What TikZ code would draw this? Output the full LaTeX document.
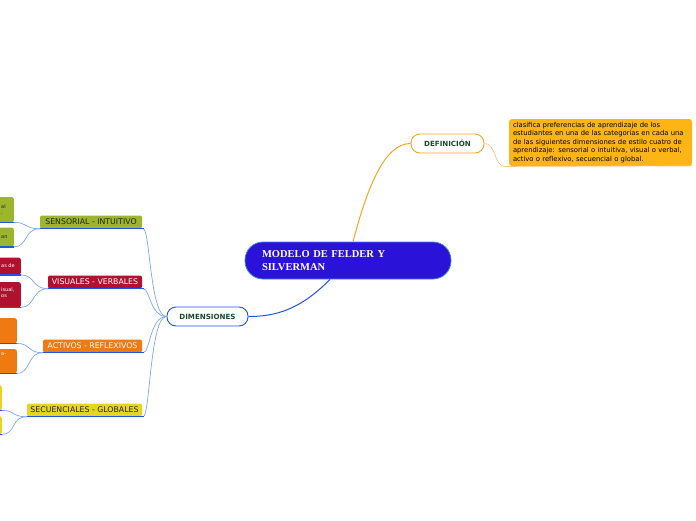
\documentclass[tikz,border=0pt]{standalone}
\usepackage{fontspec}
\setmainfont{DejaVu Sans}
\newfontfamily\titlefont{Liberation Serif}
\definecolor{cmain}{HTML}{2B12D8}
\definecolor{cmainb}{HTML}{3F86D6}
\definecolor{cblue}{HTML}{2452E6}
\definecolor{cthin}{HTML}{7FA5F6}
\definecolor{corange}{HTML}{F5A623}
\definecolor{corthin}{HTML}{F6C27A}
\definecolor{cdef}{HTML}{FDB515}
\definecolor{colive}{HTML}{9CB52D}
\definecolor{ccrim}{HTML}{B2102F}
\definecolor{cor}{HTML}{EF7A12}
\definecolor{cyel}{HTML}{E6D61E}
\definecolor{cdkgreen}{HTML}{1A4A2E}
\definecolor{cdark}{HTML}{222222}
\begin{document}
\begin{tikzpicture}[x=1pt,y=-1pt,
  mainbox/.style={rectangle, rounded corners=18pt, fill=cmain, draw=cmainb, line width=0.8pt,
    minimum width=206pt, minimum height=37pt, inner sep=0pt},
  pill/.style={rectangle, rounded corners=9pt, fill=white, line width=0.9pt,
    minimum height=19pt, inner sep=0pt, text=cdkgreen, font=\fontsize{7.1}{8}\selectfont\bfseries},
  childbox/.style={rectangle, rounded corners=2pt, minimum height=13pt, inner sep=0pt,
    font=\fontsize{7.8}{9}\selectfont},
  leafbox/.style={rectangle, rounded corners=2pt, inner sep=0pt, anchor=north east,
    font=\fontsize{5}{6.5}\selectfont},
  leaftext/.style={inner sep=0pt, anchor=west, align=left, font=\fontsize{5}{6.5}\selectfont},
  uline/.style={cblue, line width=1.5pt},
  thin/.style={cthin, line width=0.7pt},
]
\useasboundingbox (0,0) rectangle (696,520);
\clip (0,0) rectangle (696,520);

% central
\node[mainbox] (main) at (348,260.5) {};
\node[text width=172pt, align=left, inner sep=0pt, text=white,
  font=\titlefont\fontsize{10.5}{13}\selectfont\bfseries] (maintext) at (348,261)
  {MODELO DE FELDER Y\\SILVERMAN};

% definition
\node[pill, draw=corange, minimum width=73pt] (def) at (447.5,143.5) {DEFINICIÓN};
\node[rectangle, rounded corners=3pt, fill=cdef, minimum width=183pt, minimum height=47pt,
  inner sep=0pt] (defbox) at (600.5,142.5) {};
\node[text width=178pt, align=left, inner sep=0pt, text=black,
  font=\fontsize{6.8}{8.5}\selectfont] (deftext) at (602,142.5)
  {clasifica preferencias de aprendizaje de los\\
   estudiantes en una de las categorías en cada una\\
   de las siguientes dimensiones de estilo cuatro de\\
   aprendizaje: sensorial o intuitiva, visual o verbal,\\
   activo o reflexivo, secuencial o global.};
\coordinate (defbl) at (505,166.5);
\draw[corthin, line width=0.6pt] (defbl) -- ([yshift=0.5pt]defbox.south east);
\draw[corthin, line width=0.6pt] (def.east) .. controls (496,143) and (494,166.5) .. (defbl);
\draw[corange, line width=1pt] ([xshift=5pt]main.north) .. controls (368,185) and (385,143.5) .. (def.west);

% dimensiones
\node[pill, draw=cblue, minimum width=81pt] (dim) at (207.5,316.5) {DIMENSIONES};
\draw[cblue, line width=1pt] ([xshift=-18pt]main.south) .. controls (300,310) and (275,316.5) .. (dim.east);

% children
\node[childbox, fill=colive, text=cdark, minimum width=102pt] (sen) at (91,222) {SENSORIAL - INTUITIVO};
\node[childbox, fill=ccrim, text=white, minimum width=94pt] (vis) at (95,282) {VISUALES - VERBALES};
\node[childbox, fill=cor, text=white, minimum width=99pt] (act) at (92.5,346) {ACTIVOS - REFLEXIVOS};
\node[childbox, fill=cyel, text=cdark, minimum width=115pt] (sec) at (84.5,410) {SECUENCIALES - GLOBALES};

\foreach \c in {sen,vis,act,sec}{
  \draw[thin] (dim.west) .. controls (150,316.5) and (150,0|-\c.south) .. ([xshift=1pt]\c.south east);
  \draw[uline] (\c.south west) -- ([xshift=1.5pt]\c.south east);
}

% leaves
\node[leafbox, fill=colive, minimum width=40pt, minimum height=25pt] (s1) at (14,197) {};
\node[leafbox, fill=colive, minimum width=40pt, minimum height=19pt] (s2) at (14,227.5) {};
\node[leafbox, fill=ccrim, minimum width=40pt, minimum height=17pt] (v1) at (21,257.5) {};
\node[leafbox, fill=ccrim, minimum width=40pt, minimum height=25pt] (v2) at (21,282) {};
\node[leafbox, fill=cor, minimum width=40pt, minimum height=25pt] (a1) at (17,318) {};
\node[leafbox, fill=cor, minimum width=40pt, minimum height=24pt] (a2) at (17,349) {};
\node[leafbox, fill=cyel, minimum width=40pt, minimum height=25pt] (q1) at (2,385) {};
\node[leafbox, fill=cyel, minimum width=40pt, minimum height=18pt] (q2) at (2,416) {};

\node[leaftext, text=cdark] (s1t) at (1,209.5) {al\\[-1pt].};
\node[leaftext, text=cdark] (s2t) at (1,237) {an};
\node[leaftext, text=white] (v1t) at (1,265.5) {as de};
\node[leaftext, text=white] (v2t) at (1,292.5) {isual,\\[-1pt]os};
\node[leaftext, text=white] (a2t) at (1,354.5) {a-};

\foreach \p/\l in {sen/s1,sen/s2,vis/v1,vis/v2,act/a1,act/a2,sec/q1,sec/q2}{
  \draw[uline] ([xshift=-4pt]\l.south west) -- (\l.south east);
  \draw[thin] (\p.south west) .. controls ([xshift=-16pt]\p.south west) and ([xshift=14pt]\l.south east) .. (\l.south east);
}
\end{tikzpicture}
\end{document}
